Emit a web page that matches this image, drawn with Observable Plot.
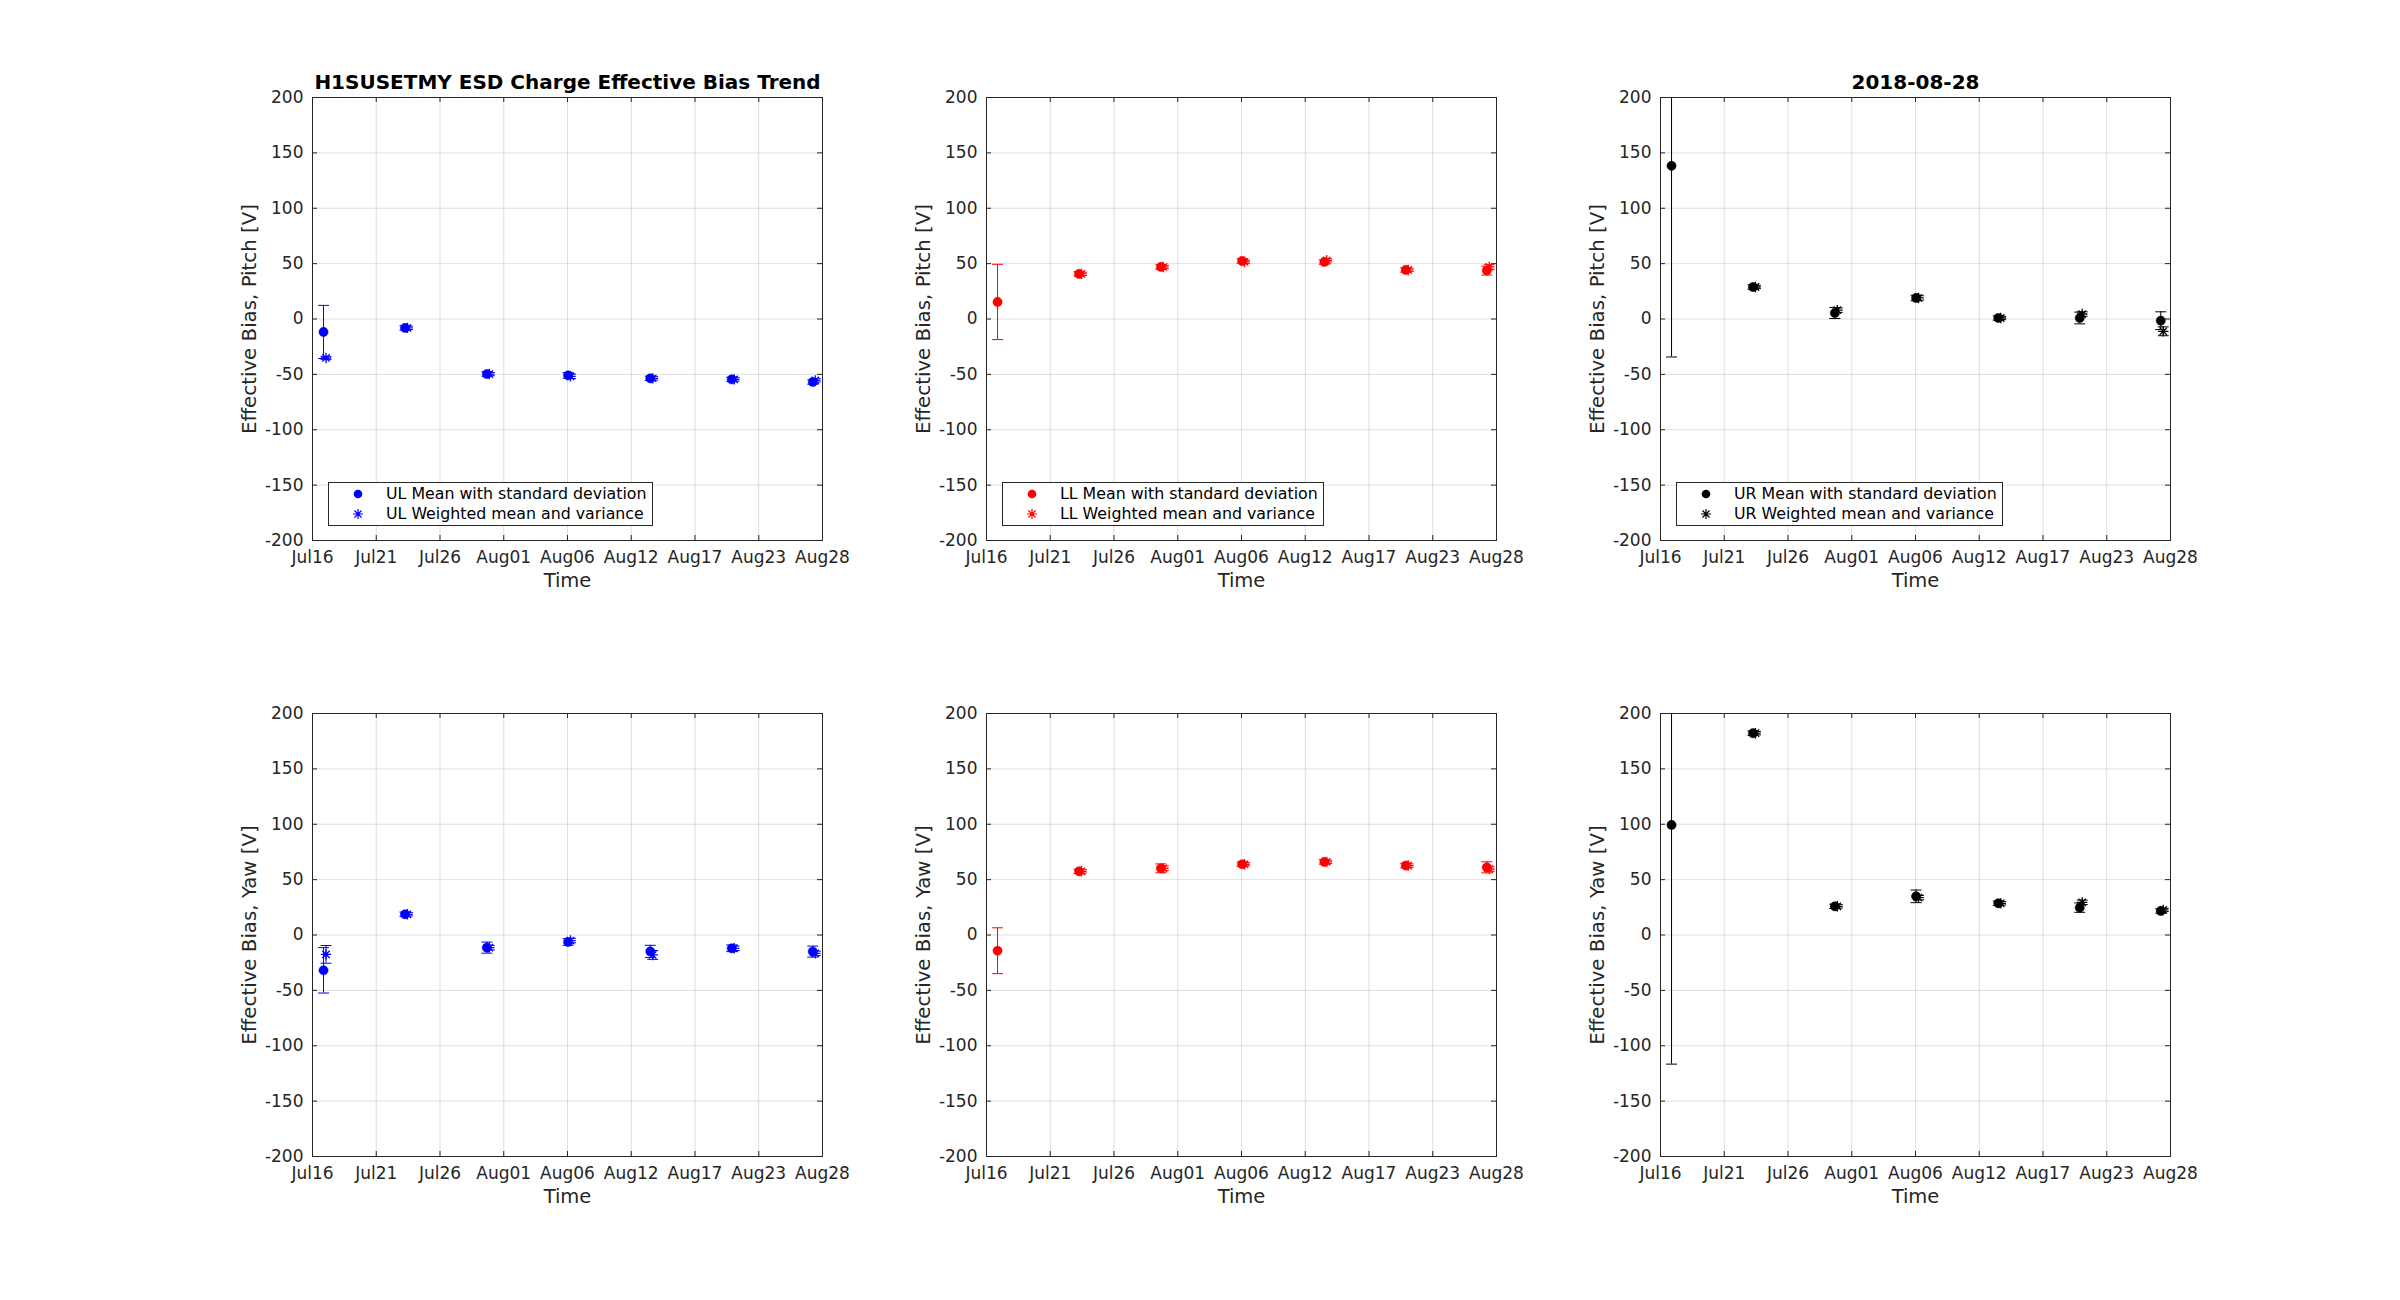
<!DOCTYPE html>
<html>
<head>
<meta charset="utf-8">
<script src="https://cdn.jsdelivr.net/npm/d3@7"></script>
<script src="https://cdn.jsdelivr.net/npm/@observablehq/plot@0.6"></script>
<style>
  html, body { margin: 0; padding: 0; background: #fff; }
  #fig { position: relative; width: 2400px; height: 1300px; background: #fff; font-family: "DejaVu Sans", sans-serif; }
  .panel { position: absolute; }
  .legend { position: absolute; border: 1px solid #262626; background: #fff; padding: 1px 5px 1px 57px;
            font-family: "DejaVu Sans", sans-serif; font-size: 15.8px; line-height: 20px; color: #000; white-space: nowrap; }
  .legend .row { position: relative; height: 20px; }
  .legend svg { position: absolute; left: -38px; top: 0; }
</style>
</head>
<body>
<div id="fig"></div>
<script>
// ---------- data ----------
const xDomain = ["2018-07-16T00:00Z", "2018-08-28T00:00Z"];
const xTickDates = ["2018-07-16T00:00Z", "2018-07-21T09:00Z", "2018-07-26T18:00Z", "2018-08-01T03:00Z",
  "2018-08-06T12:00Z", "2018-08-11T21:00Z", "2018-08-17T06:00Z", "2018-08-22T15:00Z", "2018-08-28T00:00Z"];
const xTickLabels = ["Jul16", "Jul21", "Jul26", "Aug01", "Aug06", "Aug12", "Aug17", "Aug23", "Aug28"];
const yTicks = [-200, -150, -100, -50, 0, 50, 100, 150, 200];

const meanDates = ["2018-07-16T22:20Z", "2018-07-23T19:10Z", "2018-07-30T16:50Z", "2018-08-06T13:10Z",
  "2018-08-13T11:30Z", "2018-08-20T08:20Z", "2018-08-27T04:20Z"];
const weightDates = ["2018-07-17T03:20Z", "2018-07-24T00:10Z", "2018-07-30T21:50Z", "2018-08-06T18:10Z",
  "2018-08-13T16:30Z", "2018-08-20T13:20Z", "2018-08-27T09:20Z"];

// Pitch
const ulPitchMean = [-11.7, -8.1, -49.7, -50.9, -53.6, -54.5, -56.9];
const ulPitchStd  = [24, 2, 2, 2.5, 2, 2, 2];
const ulPitchW    = [-35.2, -8, -49.7, -51.8, -53.6, -54.5, -55.4];
const ulPitchVar  = [1.5, 1.5, 1.5, 2, 1.5, 1.5, 1.5];

const llPitchMean = [15.4, 40.7, 47, 52.4, 51.5, 44.3, 43.7];
const llPitchStd  = [34, 2, 2, 2, 2, 2, 4];
const llPitchW    = [null, 40.7, 47, 51.5, 53, 44.3, 47];
const llPitchVar  = [null, 1.5, 1.5, 1.5, 1.5, 1.5, 2];

const urPitchMean = [138.3, 28.9, 5.4, 19, 0.9, 0.9, -1.5];
const urPitchStd  = [172.6, 2, 5, 2.5, 2, 5.3, 8];
const urPitchW    = [null, 28.9, 8, 19, 0.9, 4.5, -11.1];
const urPitchVar  = [null, 1.5, 2, 2, 1.5, 2, 4];

// Yaw
const ulYawMean = [-31.9, 18.7, -11.4, -6.3, -14.8, -12, -15];
const ulYawStd  = [20.5, 2, 5, 3, 5.5, 3, 5];
const ulYawW    = [-17.5, 18.7, -11.4, -5, -18, -12, -16.6];
const ulYawVar  = [8, 1.5, 2, 2, 4, 2, 2];

const llYawMean = [-14.2, 57.5, 60.2, 63.9, 66, 62.7, 61.1];
const llYawStd  = [20.7, 2, 4, 2, 2, 2, 5];
const llYawW    = [null, 57.5, 60.2, 63.9, 66, 62.7, 59.6];
const llYawVar  = [null, 1.5, 2, 1.5, 1.5, 1.5, 2];

const urYawMean = [99.4, 182.2, 25.9, 34.9, 28.6, 24.7, 21.7];
const urYawStd  = [216, 2, 2, 5.7, 2, 4.2, 2];
const urYawW    = [null, 182.2, 25.9, 33.7, 28.6, 29.5, 22.6];
const urYawVar  = [null, 1.5, 1.5, 2, 1.5, 2, 1.5];

const quadrants = ["UL", "LL", "UR"];
const quadColors = ["#0000ff", "#ff0000", "#000000"];
const rowLabels = ["Effective Bias, Pitch [V]", "Effective Bias, Yaw [V]"];
const titles = [["H1SUSETMY ESD Charge Effective Bias Trend", "", "2018-08-28"], ["", "", ""]];
const xLabel = "Time";
const legendMeanText = "Mean with standard deviation";
const legendWeightText = "Weighted mean and variance";

const series = [
  [[ulPitchMean, ulPitchStd, ulPitchW, ulPitchVar], [llPitchMean, llPitchStd, llPitchW, llPitchVar], [urPitchMean, urPitchStd, urPitchW, urPitchVar]],
  [[ulYawMean, ulYawStd, ulYawW, ulYawVar], [llYawMean, llYawStd, llYawW, llYawVar], [urYawMean, urYawStd, urYawW, urYawVar]]
];

// ---------- layout ----------
const colLefts = [312, 986, 1660];
const rowTops = [97, 713];
const W = 510, H = 443;
const mL = 110, mR = 20, mT = 45, mB = 80;
const axisColor = "#262626";

// custom symbols (MATLAB-like asterisk and error-bar cap)
const asterisk = {
  draw(ctx, size) {
    const r = Math.sqrt(size / Math.PI), d = r * Math.SQRT1_2;
    ctx.moveTo(-r, 0); ctx.lineTo(r, 0);
    ctx.moveTo(0, -r); ctx.lineTo(0, r);
    ctx.moveTo(-d, -d); ctx.lineTo(d, d);
    ctx.moveTo(-d, d); ctx.lineTo(d, -d);
  }
};
const cap = {
  draw(ctx, size) {
    const r = Math.sqrt(size / Math.PI);
    ctx.moveTo(-r, 0); ctx.lineTo(r, 0);
  }
};

const tickLabelMap = new Map(xTickDates.map((d, i) => [+new Date(d), xTickLabels[i]]));
const xTicks = xTickDates.map(d => new Date(d));

function makePanel(r, c) {
  const [mean, std, wmean, wvar] = series[r][c];
  const color = quadColors[c];
  const rows = meanDates.map((d, i) => ({t: new Date(d), m: mean[i], s: std[i]}));
  const wrows = weightDates.map((d, i) => ({t: new Date(d), w: wmean[i], v: wvar[i]})).filter(d => d.w != null);

  const marks = [
    Plot.gridX(xTicks, {stroke: axisColor, strokeOpacity: 0.15}),
    Plot.gridY(yTicks, {stroke: axisColor, strokeOpacity: 0.15}),
    // inward tick marks on all four sides
    Plot.ruleX(xTicks, {x: d => d, insetTop: H - 5, stroke: axisColor}),
    Plot.ruleX(xTicks, {x: d => d, insetBottom: H - 5, stroke: axisColor}),
    Plot.ruleY(yTicks, {y: d => d, insetRight: W - 5, stroke: axisColor}),
    Plot.ruleY(yTicks, {y: d => d, insetLeft: W - 5, stroke: axisColor}),
    Plot.frame({stroke: axisColor, strokeWidth: 1}),
    Plot.axisX(xTicks, {tickSize: 0, tickPadding: 10, tickFormat: d => tickLabelMap.get(+d), label: null, fontSize: 17, fill: axisColor}),
    Plot.axisY(yTicks, {tickSize: 0, tickPadding: 9, tickFormat: d => String(d), label: null, fontSize: 17, fill: axisColor}),
    // mean error bars
    Plot.ruleX(rows, {x: "t", y1: d => d.m - d.s, y2: d => d.m + d.s, stroke: color, strokeWidth: 1, clip: true}),
    Plot.dot(rows, {x: "t", y: d => d.m - d.s, symbol: cap, r: 5.5, fill: "none", stroke: color, strokeWidth: 1, clip: true}),
    Plot.dot(rows, {x: "t", y: d => d.m + d.s, symbol: cap, r: 5.5, fill: "none", stroke: color, strokeWidth: 1, clip: true}),
    Plot.dot(rows, {x: "t", y: "m", r: 4.6, fill: color, stroke: color, strokeWidth: 0.5}),
    // weighted error bars
    Plot.ruleX(wrows, {x: "t", y1: d => d.w - d.v, y2: d => d.w + d.v, stroke: color, strokeWidth: 1, clip: true}),
    Plot.dot(wrows, {x: "t", y: d => d.w - d.v, symbol: cap, r: 5.5, fill: "none", stroke: color, strokeWidth: 1, clip: true}),
    Plot.dot(wrows, {x: "t", y: d => d.w + d.v, symbol: cap, r: 5.5, fill: "none", stroke: color, strokeWidth: 1, clip: true}),
    Plot.dot(wrows, {x: "t", y: "w", symbol: asterisk, r: 5.2, fill: "none", stroke: color, strokeWidth: 1.3}),
    // axis labels
    Plot.text([xLabel], {text: d => d, frameAnchor: "bottom", dy: 46, fontSize: 19.5, fill: axisColor}),
    Plot.text([rowLabels[r]], {text: d => d, frameAnchor: "left", textAnchor: "middle", dx: -63, rotate: -90, fontSize: 19.8, fill: axisColor})
  ];
  if (titles[r][c]) {
    marks.push(Plot.text([titles[r][c]], {text: d => d, frameAnchor: "top", textAnchor: "middle", dy: -9, lineAnchor: "bottom", fontSize: 20, fontWeight: "bold", fill: "#000"}));
  }

  return Plot.plot({
    width: W + mL + mR,
    height: H + mT + mB,
    marginLeft: mL, marginRight: mR, marginTop: mT, marginBottom: mB,
    style: {fontFamily: "DejaVu Sans", fontSize: "17px", color: axisColor, background: "transparent", overflow: "visible"},
    x: {type: "utc", domain: xDomain.map(d => new Date(d))},
    y: {domain: [-200, 200]},
    marks
  });
}

function legendSymbolSvg(kind, color) {
  if (kind === "circle") {
    return `<svg width="20" height="20"><circle cx="10" cy="10" r="4.3" fill="${color}"/></svg>`;
  }
  const r = 5, d = r * Math.SQRT1_2;
  return `<svg width="20" height="20"><g transform="translate(10,10)" stroke="${color}" stroke-width="1.2" fill="none">
    <path d="M${-r},0L${r},0M0,${-r}L0,${r}M${-d},${-d}L${d},${d}M${-d},${d}L${d},${-d}"/></g></svg>`;
}

const fig = document.getElementById("fig");
for (let r = 0; r < 2; ++r) {
  for (let c = 0; c < 3; ++c) {
    const div = document.createElement("div");
    div.className = "panel";
    div.style.left = (colLefts[c] - mL) + "px";
    div.style.top = (rowTops[r] - mT) + "px";
    div.appendChild(makePanel(r, c));
    fig.appendChild(div);
    if (r === 0) {
      const lg = document.createElement("div");
      lg.className = "legend";
      lg.style.left = (colLefts[c] + 16) + "px";
      lg.style.top = (rowTops[r] + H - 58) + "px";
      lg.innerHTML =
        `<div class="row">${legendSymbolSvg("circle", quadColors[c])}${quadrants[c]} ${legendMeanText}</div>` +
        `<div class="row">${legendSymbolSvg("asterisk", quadColors[c])}${quadrants[c]} ${legendWeightText}</div>`;
      fig.appendChild(lg);
    }
  }
}
</script>
</body>
</html>
